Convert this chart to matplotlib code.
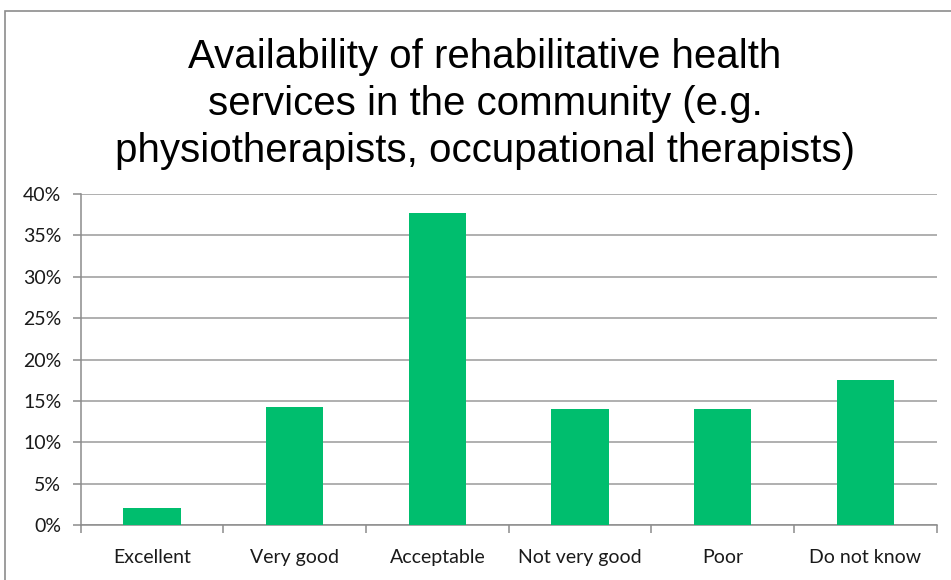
import matplotlib.pyplot as plt
from matplotlib.patches import Rectangle
from matplotlib.ticker import FuncFormatter, FixedLocator
import numpy as np

# --- DATA ---
categories = ["Excellent", "Very good", "Acceptable", "Not very good", "Poor", "Do not know"]
values = [2.1, 14.3, 37.7, 14.1, 14.1, 17.6]
yticks = [0, 5, 10, 15, 20, 25, 30, 35, 40]
title = ("Availability of rehabilitative health\n"
         "services in the community (e.g.\n"
         "physiotherapists, occupational therapists)")

W, H = 951, 580
fig = plt.figure(figsize=(W / 100, H / 100), dpi=100)

# outer chart frame
fig.patches.append(Rectangle((4.5 / W, -0.05), 1.1, (H - 10.5) / H + 0.05,
                             transform=fig.transFigure, fill=False,
                             edgecolor="#8c8c8c", linewidth=1.2))

ax = fig.add_axes([80.7 / W, (H - 525.3) / H, (936.7 - 80.7) / W, (525.3 - 194) / H])

x = np.arange(len(categories))
ax.bar(x, values, width=0.4, color="#00be6e", zorder=3)

ax.set_xlim(-0.5, len(categories) - 0.5)
ax.set_ylim(0, 40)
ax.set_yticks(yticks)
ax.yaxis.set_major_formatter(FuncFormatter(lambda v, p: f"{v:.0f}%"))
ax.grid(axis="y", color="#9a9a9a", linewidth=1.1, zorder=0)

ax.set_xticks(x)
ax.set_xticklabels(categories)
ax.xaxis.set_minor_locator(FixedLocator(np.arange(-0.5, len(categories), 1.0)))
ax.tick_params(axis="x", which="major", length=0, pad=17, labelsize=14, colors="#1a1a1a")
ax.tick_params(axis="x", which="minor", length=5.5, width=1.1, color="#8c8c8c", direction="out")
ax.tick_params(axis="y", length=6, width=1.1, color="#8c8c8c", pad=8, labelsize=14,
               labelcolor="#1a1a1a")

for lab in ax.get_xticklabels() + ax.get_yticklabels():
    lab.set_fontfamily("Lato")

for side in ["top", "right"]:
    ax.spines[side].set_visible(False)
for side in ["left", "bottom"]:
    ax.spines[side].set_color("#8c8c8c")
    ax.spines[side].set_linewidth(1.1)

fig.text(485 / W, (H - 104) / H, title, ha="center", va="center",
         fontsize=29, family="Liberation Sans", linespacing=1.3, color="#000000")

fig.savefig("out.png", dpi=100)
